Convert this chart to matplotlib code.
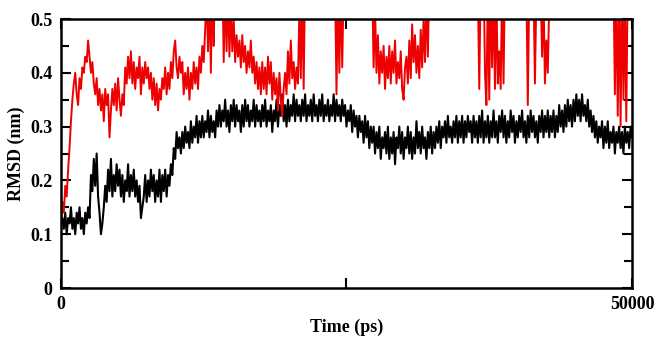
import numpy as np
import matplotlib.pyplot as plt

plt.rcParams['font.family'] = 'Liberation Serif'
plt.rcParams['font.weight'] = 'bold'

# time axis (ps), one frame every 125 ps
time_ps = np.arange(0, 50001, 125)

# black trace
rmsd_black = [
    0.12, 0.13, 0.11, 0.14, 0.10, 0.13, 0.12, 0.15, 0.11, 0.13,
    0.10, 0.14, 0.12, 0.15, 0.11, 0.13, 0.10, 0.14, 0.12, 0.15,
    0.13, 0.21, 0.18, 0.24, 0.19, 0.25, 0.17, 0.14, 0.10, 0.12,
    0.15, 0.19, 0.16, 0.22, 0.18, 0.24, 0.17, 0.21, 0.18, 0.23,
    0.19, 0.22, 0.17, 0.21, 0.16, 0.20, 0.18, 0.23, 0.17, 0.21,
    0.18, 0.22, 0.17, 0.20, 0.16, 0.19, 0.13, 0.15, 0.17, 0.21,
    0.16, 0.20, 0.17, 0.22, 0.18, 0.21, 0.16, 0.20, 0.17, 0.22,
    0.16, 0.21, 0.18, 0.22, 0.17, 0.21, 0.19, 0.23, 0.21, 0.26,
    0.24, 0.29, 0.26, 0.28, 0.25, 0.29, 0.26, 0.30, 0.27, 0.29,
    0.26, 0.31, 0.27, 0.30, 0.28, 0.32, 0.27, 0.31, 0.28, 0.32,
    0.28, 0.31, 0.29, 0.33, 0.28, 0.32, 0.29, 0.31, 0.28, 0.33,
    0.30, 0.34, 0.30, 0.33, 0.31, 0.35, 0.30, 0.33, 0.29, 0.34,
    0.31, 0.35, 0.30, 0.34, 0.31, 0.33, 0.29, 0.34, 0.30, 0.35,
    0.31, 0.34, 0.30, 0.33, 0.31, 0.35, 0.30, 0.34, 0.31, 0.33,
    0.30, 0.34, 0.31, 0.35, 0.30, 0.33, 0.31, 0.34, 0.29, 0.33,
    0.31, 0.35, 0.30, 0.34, 0.32, 0.36, 0.31, 0.34, 0.30, 0.35,
    0.31, 0.34, 0.32, 0.36, 0.31, 0.35, 0.32, 0.34, 0.31, 0.35,
    0.32, 0.36, 0.31, 0.34, 0.32, 0.35, 0.31, 0.36, 0.32, 0.34,
    0.31, 0.35, 0.32, 0.36, 0.31, 0.34, 0.32, 0.35, 0.31, 0.34,
    0.32, 0.36, 0.31, 0.35, 0.32, 0.34, 0.31, 0.35, 0.32, 0.34,
    0.30, 0.33, 0.31, 0.34, 0.29, 0.33, 0.30, 0.32, 0.28, 0.32,
    0.29, 0.31, 0.27, 0.32, 0.28, 0.31, 0.26, 0.30, 0.27, 0.30,
    0.25, 0.29, 0.26, 0.30, 0.24, 0.28, 0.26, 0.29, 0.25, 0.30,
    0.24, 0.28, 0.25, 0.29, 0.23, 0.28, 0.26, 0.30, 0.25, 0.29,
    0.24, 0.28, 0.26, 0.30, 0.25, 0.29, 0.24, 0.28, 0.25, 0.31,
    0.26, 0.29, 0.25, 0.30, 0.26, 0.28, 0.24, 0.29, 0.26, 0.30,
    0.25, 0.29, 0.26, 0.30, 0.27, 0.31, 0.26, 0.30, 0.28, 0.31,
    0.27, 0.32, 0.28, 0.30, 0.27, 0.31, 0.28, 0.32, 0.27, 0.31,
    0.28, 0.32, 0.27, 0.31, 0.28, 0.32, 0.29, 0.31, 0.27, 0.32,
    0.28, 0.31, 0.27, 0.32, 0.28, 0.33, 0.27, 0.31, 0.28, 0.32,
    0.27, 0.31, 0.28, 0.33, 0.28, 0.31, 0.27, 0.32, 0.29, 0.33,
    0.28, 0.32, 0.27, 0.31, 0.28, 0.33, 0.29, 0.32, 0.27, 0.31,
    0.28, 0.32, 0.29, 0.33, 0.28, 0.31, 0.27, 0.32, 0.28, 0.33,
    0.29, 0.32, 0.28, 0.31, 0.27, 0.32, 0.29, 0.33, 0.28, 0.32,
    0.29, 0.33, 0.28, 0.32, 0.29, 0.33, 0.28, 0.32, 0.29, 0.34,
    0.30, 0.33, 0.29, 0.34, 0.30, 0.35, 0.31, 0.34, 0.30, 0.35,
    0.31, 0.36, 0.32, 0.35, 0.31, 0.36, 0.32, 0.34, 0.31, 0.35,
    0.30, 0.33, 0.29, 0.32, 0.28, 0.31, 0.27, 0.30, 0.28, 0.31,
    0.26, 0.30, 0.27, 0.31, 0.26, 0.29, 0.27, 0.30, 0.25, 0.29,
    0.27, 0.30, 0.26, 0.29, 0.25, 0.30, 0.27, 0.29, 0.26, 0.30,
    0.28,
]

# red trace; values above 0.5 run off the top of the plot
rmsd_red = [
    0.12, 0.16, 0.14, 0.19, 0.17, 0.22, 0.26, 0.31, 0.35, 0.38,
    0.40, 0.36, 0.34, 0.39, 0.37, 0.41, 0.40, 0.43, 0.42, 0.46,
    0.43, 0.40, 0.42, 0.38, 0.36, 0.39, 0.34, 0.37, 0.33, 0.36,
    0.31, 0.37, 0.34, 0.36, 0.28, 0.33, 0.37, 0.34, 0.38, 0.33,
    0.39, 0.35, 0.32, 0.36, 0.34, 0.41, 0.38, 0.43, 0.39, 0.44,
    0.38, 0.42, 0.37, 0.41, 0.39, 0.43, 0.36, 0.41, 0.38, 0.42,
    0.39, 0.41, 0.37, 0.40, 0.35, 0.39, 0.34, 0.38, 0.33, 0.37,
    0.35, 0.39, 0.37, 0.41, 0.36, 0.40, 0.37, 0.42, 0.39, 0.44,
    0.46, 0.41, 0.39, 0.43, 0.40, 0.42, 0.36, 0.40, 0.37, 0.41,
    0.35, 0.40, 0.37, 0.42, 0.38, 0.41, 0.37, 0.43, 0.40, 0.45,
    0.42, 0.48, 0.55, 0.44, 0.56, 0.40, 0.58, 0.45, 0.60, 0.62,
    0.60, 0.62, 0.58, 0.60, 0.42, 0.57, 0.44, 0.55, 0.43, 0.53,
    0.44, 0.50, 0.42, 0.47, 0.43, 0.46, 0.41, 0.47, 0.42, 0.45,
    0.40, 0.44, 0.41, 0.46, 0.40, 0.43, 0.38, 0.42, 0.37, 0.41,
    0.36, 0.42, 0.37, 0.41, 0.36, 0.43, 0.38, 0.42, 0.35, 0.40,
    0.36, 0.39, 0.33, 0.40, 0.35, 0.32, 0.37, 0.40, 0.36, 0.44,
    0.38, 0.46, 0.39, 0.42, 0.37, 0.41, 0.38, 0.52, 0.39, 0.56,
    0.37, 0.58, 0.60, 0.62, 0.60, 0.61, 0.60, 0.62, 0.60, 0.61,
    0.60, 0.62, 0.60, 0.61, 0.60, 0.62, 0.60, 0.61, 0.60, 0.62,
    0.60, 0.58, 0.56, 0.36, 0.55, 0.40, 0.57, 0.41, 0.56, 0.60,
    0.62, 0.60, 0.61, 0.60, 0.62, 0.60, 0.61, 0.60, 0.62, 0.60,
    0.61, 0.60, 0.62, 0.60, 0.61, 0.60, 0.62, 0.58, 0.56, 0.41,
    0.52, 0.40, 0.47, 0.38, 0.44, 0.40, 0.45, 0.37, 0.43, 0.39,
    0.45, 0.38, 0.44, 0.40, 0.46, 0.38, 0.42, 0.39, 0.44, 0.37,
    0.35, 0.41, 0.43, 0.38, 0.46, 0.39, 0.49, 0.42, 0.47, 0.40,
    0.45, 0.39, 0.48, 0.41, 0.50, 0.42, 0.55, 0.43, 0.58, 0.60,
    0.62, 0.60, 0.61, 0.60, 0.62, 0.60, 0.61, 0.60, 0.62, 0.60,
    0.61, 0.60, 0.62, 0.60, 0.61, 0.60, 0.62, 0.60, 0.61, 0.60,
    0.62, 0.60, 0.61, 0.60, 0.62, 0.60, 0.61, 0.60, 0.62, 0.60,
    0.60, 0.58, 0.56, 0.37, 0.57, 0.55, 0.60, 0.40, 0.34, 0.56,
    0.35, 0.58, 0.41, 0.56, 0.37, 0.55, 0.38, 0.44, 0.37, 0.56,
    0.38, 0.58, 0.60, 0.62, 0.60, 0.61, 0.60, 0.62, 0.60, 0.61,
    0.60, 0.62, 0.60, 0.61, 0.60, 0.58, 0.56, 0.34, 0.55, 0.58,
    0.60, 0.56, 0.38, 0.55, 0.58, 0.60, 0.56, 0.43, 0.55, 0.38,
    0.46, 0.40, 0.53, 0.58, 0.60, 0.62, 0.60, 0.61, 0.60, 0.62,
    0.60, 0.61, 0.60, 0.62, 0.60, 0.61, 0.60, 0.62, 0.60, 0.61,
    0.62, 0.60, 0.61, 0.60, 0.62, 0.60, 0.61, 0.60, 0.62, 0.60,
    0.61, 0.60, 0.62, 0.60, 0.61, 0.60, 0.62, 0.60, 0.61, 0.60,
    0.60, 0.62, 0.60, 0.61, 0.60, 0.62, 0.60, 0.58, 0.36, 0.56,
    0.32, 0.55, 0.30, 0.57, 0.35, 0.54, 0.31, 0.58, 0.60, 0.62,
    0.60,
]

y_ticks = [0, 0.1, 0.2, 0.3, 0.4, 0.5]
y_labels = ['0', '0.1', '0.2', '0.3', '0.4', '0.5']
x_ticks = [0, 25000, 50000]
x_labels = ['0', '', '50000']

fig = plt.figure(figsize=(6.62, 3.45), dpi=100)
ax = fig.add_axes([0.0921, 0.1652, 0.8626, 0.7797])

ax.plot(time_ps, rmsd_black, color='black', lw=1.5)
ax.plot(time_ps, rmsd_red, color='#ee0000', lw=1.4)

ax.set_xlim(0, 50000)
ax.set_ylim(0, 0.5)
ax.set_xticks(x_ticks)
ax.set_xticklabels(x_labels)
ax.set_yticks(y_ticks)
ax.set_yticklabels(y_labels)
ax.set_yticks([0.05, 0.15, 0.25, 0.35, 0.45], minor=True)

ax.tick_params(which='both', direction='in', top=True, right=True,
               width=1.5, labelsize=13, pad=6)
ax.tick_params(which='major', length=7)
ax.tick_params(which='minor', length=6)
for s in ax.spines.values():
    s.set_linewidth(1.8)

ax.set_xlabel('Time (ps)', fontsize=13, fontweight='bold', labelpad=4)
ax.set_ylabel('RMSD (nm)', fontsize=13, fontweight='bold', labelpad=4)

fig.savefig('out.png', dpi=100)
